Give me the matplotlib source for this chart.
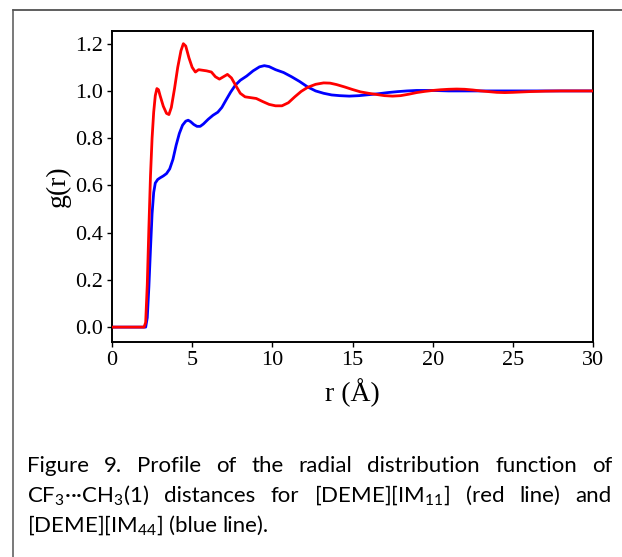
import matplotlib
matplotlib.use("Agg")
import matplotlib.pyplot as plt
from matplotlib.lines import Line2D

red_r = [0, 1.0, 2.0, 2.1, 2.2, 2.3, 2.4, 2.5, 2.6, 2.7, 2.8, 2.9, 3.0, 3.2, 3.4, 3.55,
         3.7, 3.9, 4.1, 4.3, 4.45, 4.6, 4.8, 5.0, 5.2, 5.4, 5.6, 5.9, 6.2, 6.45, 6.7,
         6.95, 7.2, 7.45, 7.7, 8.0, 8.3, 8.6, 9.0, 9.4, 9.8, 10.2, 10.6, 11.0, 11.4,
         11.8, 12.2, 12.7, 13.2, 13.6, 14.0, 14.5, 15.0, 15.5, 16.0, 16.5, 17.0, 17.5,
         18.0, 18.5, 19.0, 19.5, 20.0, 20.5, 21.0, 21.5, 22.0, 22.5, 23.0, 23.5, 24.0,
         24.5, 25.0, 26, 27, 28, 29, 30]
red_g = [0, 0, 0.0, 0.02, 0.18, 0.42, 0.64, 0.80, 0.91, 0.98, 1.01, 1.005, 0.98, 0.935,
         0.905, 0.90, 0.93, 1.01, 1.10, 1.17, 1.20, 1.19, 1.14, 1.10, 1.08, 1.09, 1.088,
         1.085, 1.08, 1.06, 1.05, 1.06, 1.07, 1.055, 1.025, 0.99, 0.975, 0.972, 0.968,
         0.955, 0.943, 0.937, 0.937, 0.950, 0.975, 0.998, 1.015, 1.028, 1.034, 1.033,
         1.027, 1.017, 1.006, 0.996, 0.99, 0.985, 0.98, 0.978, 0.98, 0.986, 0.993, 0.998,
         1.002, 1.005, 1.007, 1.008, 1.007, 1.004, 1.0, 0.997, 0.994, 0.993, 0.994, 0.997,
         0.999, 1.0, 1.0, 1.0]

blue_r = [0, 1.0, 2.0, 2.1, 2.2, 2.3, 2.4, 2.5, 2.6, 2.7, 2.85, 3.0, 3.2, 3.4, 3.6, 3.8,
          4.0, 4.2, 4.4, 4.6, 4.75, 4.9, 5.1, 5.3, 5.5, 5.7, 6.0, 6.3, 6.6, 6.85, 7.1,
          7.4, 7.7, 8.0, 8.4, 8.8, 9.2, 9.5, 9.8, 10.2, 10.7, 11.2, 11.7, 12.2, 12.7,
          13.2, 13.7, 14.2, 14.8, 15.4, 16.0, 16.6, 17.2, 17.8, 18.4, 19.0, 20, 21, 22,
          23, 24, 25, 26, 27, 28, 29, 30]
blue_g = [0, 0, 0, 0.0, 0.04, 0.17, 0.33, 0.48, 0.57, 0.61, 0.625, 0.632, 0.64, 0.65,
          0.67, 0.71, 0.77, 0.82, 0.855, 0.872, 0.876, 0.87, 0.858, 0.85, 0.85, 0.86,
          0.88, 0.897, 0.91, 0.93, 0.96, 0.995, 1.025, 1.045, 1.063, 1.085, 1.102, 1.107,
          1.103, 1.09, 1.078, 1.06, 1.04, 1.017, 1.0, 0.99, 0.983, 0.98, 0.978, 0.98,
          0.984, 0.988, 0.993, 0.997, 1.0, 1.002, 1.002, 1.0, 1.0, 1.0, 1.0, 1.0, 1.0,
          1.0, 1.0, 1.0, 1.0]

x_ticks = [0, 5, 10, 15, 20, 25, 30]
y_ticks = [0.0, 0.2, 0.4, 0.6, 0.8, 1.0, 1.2]

caption_lines = [
    ["Figure", "9.", "Profile", "of", "the", "radial", "distribution", "function", "of"],
    ["CF$_3$\u00b7\u00b7\u00b7CH$_3$(1)", "distances", "for", "[DEME][IM$_{11}$]",
     "(red", "line)", "and"],
    ["[DEME][IM$_{44}$]", "(blue", "line)."],
]

W, H = 622, 557
plt.rcParams["mathtext.default"] = "regular"

fig = plt.figure(figsize=(W / 100, H / 100), dpi=100)
ax = fig.add_axes([112 / W, 1 - 342 / H, (593 - 112) / W, (342 - 30.7) / H])

ax.plot(blue_r, blue_g, color="#0000ff", lw=2.0, zorder=2)
ax.plot(red_r, red_g, color="#ff0000", lw=2.0, zorder=3)

ax.set_xlim(0, 30)
ax.set_ylim(-0.063, 1.255)
ax.set_xticks(x_ticks)
ax.set_yticks(y_ticks)
ax.set_xticklabels([str(v) for v in x_ticks])
ax.set_yticklabels([f"{v:.1f}" for v in y_ticks])
for lab in ax.get_xticklabels() + ax.get_yticklabels():
    lab.set_fontfamily("Liberation Serif")
    lab.set_fontsize(16)
ax.tick_params(direction="out", length=3.5, width=1.0, pad=3)
for sp in ax.spines.values():
    sp.set_linewidth(1.4)

ax.set_xlabel("r (\u00c5)", fontfamily="Liberation Serif", fontsize=20, labelpad=6)
ax.set_ylabel("g(r)", fontfamily="Liberation Serif", fontsize=20, labelpad=3)

# outer frame of the figure panel
fig.add_artist(Line2D([13 / W, 1.0], [1 - 10 / H, 1 - 10 / H], transform=fig.transFigure,
                      color="#333333", lw=1.1))
fig.add_artist(Line2D([13 / W, 13 / W], [0, 1 - 10 / H], transform=fig.transFigure,
                      color="#555555", lw=1.1))

# justified caption
left_px, right_px = 27, 612
baselines = [472, 502, 532]
cap_kw = dict(fontfamily=["Lato", "DejaVu Sans"], fontsize=16, color="black",
              va="baseline", ha="left", transform=fig.transFigure)
fig.canvas.draw()
renderer = fig.canvas.get_renderer()
probe_sp = fig.text(0, 0, "a a", **cap_kw)
probe_aa = fig.text(0, 0, "aa", **cap_kw)
space_w = probe_sp.get_window_extent(renderer).width - probe_aa.get_window_extent(renderer).width
probe_sp.remove()
probe_aa.remove()

for i, (words, base) in enumerate(zip(caption_lines, baselines)):
    items = [fig.text(0, 1 - base / H, w, **cap_kw) for w in words]
    widths = [t.get_window_extent(renderer).width for t in items]
    if i < len(caption_lines) - 1:
        gap = (right_px - left_px - sum(widths)) / (len(words) - 1)
    else:
        gap = space_w
    x = left_px
    for t, w in zip(items, widths):
        t.set_x(x / W)
        x += w + gap

fig.savefig("out.png", dpi=100)
